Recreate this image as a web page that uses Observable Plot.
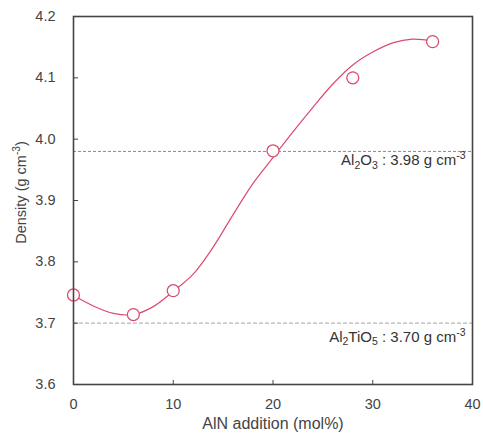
<!DOCTYPE html>
<html>
<head>
<meta charset="utf-8">
<script src="https://cdn.jsdelivr.net/npm/d3@7"></script>
<script src="https://cdn.jsdelivr.net/npm/@observablehq/plot@0.6"></script>
<style>
  html, body { margin: 0; padding: 0; background: #fff; }
  #chart svg { display: block; }
</style>
</head>
<body>
<div id="chart"></div>
<script>
// Measured densities vs AlN addition
const alnMol = [0, 6, 10, 20, 28, 36];
const density = [3.746, 3.714, 3.753, 3.981, 4.100, 4.159];

// Fitted trend curve
const fitMol = [0, 2, 4, 6, 8, 10, 12, 14, 16, 18, 20, 22, 24, 26, 28, 30, 32, 34, 36];
const fitDensity = [3.745, 3.728, 3.716, 3.714, 3.727, 3.752, 3.780, 3.824, 3.877, 3.928, 3.970, 4.012, 4.052, 4.090, 4.121, 4.142, 4.157, 4.163, 4.160];

// Reference phase densities: formula parts as [text, "sub" | ""]
const refFormulas = [
  [["Al", ""], ["2", "sub"], ["O", ""], ["3", "sub"]],
  [["Al", ""], ["2", "sub"], ["TiO", ""], ["5", "sub"]]
];
const refDensity = [3.98, 3.70];

const xTicks = [0, 10, 20, 30, 40];
const yTicks = [3.6, 3.7, 3.8, 3.9, 4.0, 4.1, 4.2];
const xTitle = "AlN addition (mol%)";
const yTitle = ["Density (g cm", "-3", ")"];

const points = alnMol.map((x, i) => ({x, y: density[i]}));
const fit = fitMol.map((x, i) => ({x, y: fitDensity[i]}));
const refs = refFormulas.map((parts, i) => ({
  parts,
  y: refDensity[i],
  label: parts.map(p => p[0]).join("") + ` : ${refDensity[i].toFixed(2)} g cm-3`
}));

const red = "#dc4a6e";
const font = "'Liberation Sans', Arial, sans-serif";

const chart = Plot.plot({
  width: 483,
  height: 437,
  marginLeft: 73,
  marginRight: 11,
  marginTop: 16,
  marginBottom: 53,
  style: {fontFamily: font, fontSize: "14.5px", color: "#444", background: "#fff"},
  x: {domain: [0, 40], ticks: xTicks},
  y: {domain: [3.6, 4.2], ticks: yTicks},
  marks: [
    Plot.ruleY(refs.slice(0, 1), {y: "y", stroke: "#8a8a8a", strokeDasharray: "3,2", strokeWidth: 1}),
    Plot.ruleY(refs.slice(1), {y: "y", stroke: "#b8b8b8", strokeDasharray: "4,2", strokeWidth: 1.1}),
    Plot.text(refs.slice(0, 1), {x: 39.3, y: "y", text: "label", textAnchor: "end", dy: 9, fontSize: 15, fill: "#333", className: "ref-label"}),
    Plot.text(refs.slice(1), {x: 39.3, y: "y", text: "label", textAnchor: "end", dy: 14, fontSize: 15, fill: "#333", className: "ref-label"}),
    Plot.line(fit, {x: "x", y: "y", curve: "catmull-rom", stroke: red, strokeWidth: 1.2}),
    Plot.dot(points, {x: "x", y: "y", r: 6, stroke: red, strokeWidth: 1.3, fill: "#fff"}),
    Plot.axisX({ticks: xTicks, tickSize: -4, tickPadding: 18, fontSize: 14.5, tickFormat: d3.format("d"), label: null, stroke: "#444"}),
    Plot.axisY({ticks: yTicks, tickSize: -5, tickPadding: 23, fontSize: 14.5, tickFormat: d3.format(".1f"), label: null, stroke: "#444"}),
    Plot.text([xTitle], {frameAnchor: "bottom", textAnchor: "middle", dy: 44, fontSize: 16, fill: "#444"}),
    Plot.text([yTitle.join("")], {frameAnchor: "left", textAnchor: "middle", dx: -52, dy: -8, rotate: -90, fontSize: 14.5, fill: "#444", className: "y-title"}),
    Plot.frame({stroke: "#444", strokeWidth: 1.6})
  ]
});

// Typeset the phase labels with sub/superscripts (shifts in px)
const labelGroups = d3.select(chart).selectAll("g.ref-label").nodes();
labelGroups.forEach((g, gi) => {
  const ref = refs[gi];
  d3.select(g).selectAll("text").each(function() {
    const t = d3.select(this);
    t.text(null);
    let shift = 0;
    ref.parts.forEach(([s, kind]) => {
      const sp = t.append("tspan").text(s);
      const target = kind === "sub" ? 3.5 : 0;
      if (target !== shift) sp.attr("dy", target - shift);
      if (kind === "sub") sp.attr("font-size", "0.7em");
      shift = target;
    });
    const main = t.append("tspan").text(` : ${ref.y.toFixed(2)} g cm`);
    if (shift) main.attr("dy", -shift);
    t.append("tspan").text("-3").attr("font-size", "0.7em").attr("dy", -6);
  });
});

// Superscript in the y-axis title
d3.select(chart).selectAll("g.y-title text").each(function() {
  const t = d3.select(this);
  t.text(null);
  t.append("tspan").text(yTitle[0]);
  t.append("tspan").text(yTitle[1]).attr("font-size", "0.7em").attr("dy", -6);
  t.append("tspan").text(yTitle[2]).attr("dy", 6);
});

document.getElementById("chart").appendChild(chart);
</script>
</body>
</html>
